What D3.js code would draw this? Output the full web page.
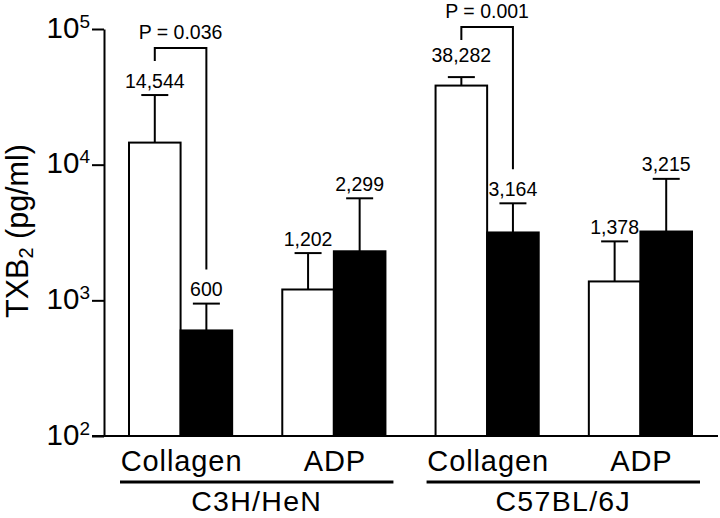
<!DOCTYPE html>
<html><head><meta charset="utf-8">
<script src="https://cdn.jsdelivr.net/npm/d3@7"></script>
<style>body{margin:0;background:#fff} svg{display:block}</style>
</head><body><svg id="c" width="720" height="518"></svg>
<script>
// ---- data ----
const strains = ["C3H/HeN", "C57BL/6J"];
const agonists = ["Collagen", "ADP"];
const series = ["open", "filled"];
// cluster order: C3H Collagen, C3H ADP, C57 Collagen, C57 ADP
const openMeans = [14544, 1202, 38282, 1378];
const filledMeans = [600, 2299, 3164, 3215];
const openUpper = [32600, 2230, 44200, 2720];
const filledUpper = [946, 5650, 5190, 7860];
const yTicks = [100, 1000, 10000, 100000];
const yTickExp = ["2", "3", "4", "5"];
const pLabels = ["P = 0.036", "P = 0.001"]; // open vs filled, collagen, per strain
const yTitle = ["TXB", "2", " (pg/ml)"];

// ---- layout ----
const font = "'Liberation Sans', Arial, Helvetica, sans-serif";
const svg = d3.select("#c");
const clusters = strains.flatMap(s => agonists.map(a => s + "|" + a));

const x0 = d3.scaleBand().domain(clusters).range([129, 692]).paddingInner(0.327).paddingOuter(0);
const x1 = d3.scaleBand().domain(series).range([0, x0.bandwidth()]).padding(0);
const y = d3.scaleLog().domain([100, 100000]).range([436, 29]);

const rows = [];
clusters.forEach((c, i) => {
  rows.push({c, i, s: "open", mean: openMeans[i], up: openUpper[i]});
  rows.push({c, i, s: "filled", mean: filledMeans[i], up: filledUpper[i]});
});
const cx = d => x0(d.c) + x1(d.s) + x1.bandwidth() / 2;

// bars
svg.append("g").selectAll("rect").data(rows).join("rect")
  .attr("x", d => x0(d.c) + x1(d.s))
  .attr("y", d => y(d.mean))
  .attr("width", x1.bandwidth())
  .attr("height", d => y(100) - y(d.mean))
  .attr("fill", d => d.s === "open" ? "#fff" : "#000")
  .attr("stroke", "#000").attr("stroke-width", 2);

// error bars
const eg = svg.append("g").attr("stroke", "#000").attr("stroke-width", 2);
eg.selectAll("line.stem").data(rows).join("line").attr("class", "stem")
  .attr("x1", cx).attr("x2", cx).attr("y1", d => y(d.mean)).attr("y2", d => y(d.up));
eg.selectAll("line.cap").data(rows).join("line").attr("class", "cap")
  .attr("x1", d => cx(d) - 13.5).attr("x2", d => cx(d) + 13.5)
  .attr("y1", d => y(d.up)).attr("y2", d => y(d.up));

// value labels
const fmt = d3.format(",");
svg.append("g").selectAll("text").data(rows).join("text")
  .attr("x", cx)
  .attr("y", d => y(d.up) - ((d.c === "C57BL/6J|Collagen" && d.s === "open") ? 15 : 7.5))
  .attr("text-anchor", "middle")
  .attr("font-family", font).attr("font-size", 19.5)
  .text(d => fmt(d.mean));

// P brackets
const bracketTop = [48, 27];
strains.forEach((s, k) => {
  const c = s + "|Collagen";
  const a = rows.find(r => r.c === c && r.s === "open");
  const b = rows.find(r => r.c === c && r.s === "filled");
  const xa = cx(a), xb = cx(b), yt = bracketTop[k];
  const yb = y(b.up) - 34;
  svg.append("path")
    .attr("d", `M${xa},${yt + 13}V${yt}H${xb}V${yb}`)
    .attr("fill", "none").attr("stroke", "#000").attr("stroke-width", 2);
  svg.append("text").attr("x", (xa + xb) / 2).attr("y", yt - 9.5)
    .attr("text-anchor", "middle").attr("font-family", font).attr("font-size", 19.5)
    .text(pLabels[k]);
});

// y axis
const ax = svg.append("g").attr("transform", "translate(104,0)")
  .call(d3.axisLeft(y).tickValues(yTicks).tickSize(12).tickSizeOuter(0).tickPadding(2).tickFormat(() => ""));
ax.selectAll("path, line").attr("stroke", "#000").attr("stroke-width", 2);
ax.selectAll(".tick text").each(function(d, i) {
  const t = d3.select(this).attr("font-family", font).attr("fill", "#000").attr("dy", null).attr("y", 8);
  t.append("tspan").attr("font-size", 29.5).text("10");
  t.append("tspan").attr("font-size", 19).attr("dy", -10).text(yTickExp[i]);
});

// baseline
svg.append("line").attr("x1", 92).attr("x2", 718).attr("y1", y(100)).attr("y2", y(100))
  .attr("stroke", "#000").attr("stroke-width", 2);

// y title
const yt = svg.append("text").attr("transform", "translate(28,231) rotate(-90)")
  .attr("text-anchor", "middle").attr("font-family", font).attr("font-size", 30.5);
yt.append("tspan").text(yTitle[0]);
yt.append("tspan").attr("font-size", 20).attr("dy", 5).text(yTitle[1]);
yt.append("tspan").attr("dy", -5).text(yTitle[2]);

// category labels
svg.append("g").selectAll("text").data(clusters).join("text")
  .attr("x", c => x0(c) + x0.bandwidth() / 2 + 1)
  .attr("y", 471)
  .attr("text-anchor", "middle").attr("font-family", font).attr("font-size", 29)
  .attr("letter-spacing", 0.9)
  .text(c => c.split("|")[1]);

// strain underline and labels
strains.forEach(s => {
  const cs = clusters.filter(c => c.startsWith(s + "|"));
  const xl = x0(cs[0]) - 9, xr = x0(cs[cs.length - 1]) + x0.bandwidth() + 8;
  svg.append("line").attr("x1", xl).attr("x2", xr).attr("y1", 482).attr("y2", 482)
    .attr("stroke", "#000").attr("stroke-width", 3);
  svg.append("text").attr("x", (xl + xr) / 2).attr("y", 511)
    .attr("text-anchor", "middle").attr("font-family", font).attr("font-size", 28.5)
    .attr("letter-spacing", 1.3)
    .text(s);
});
</script></body></html>
